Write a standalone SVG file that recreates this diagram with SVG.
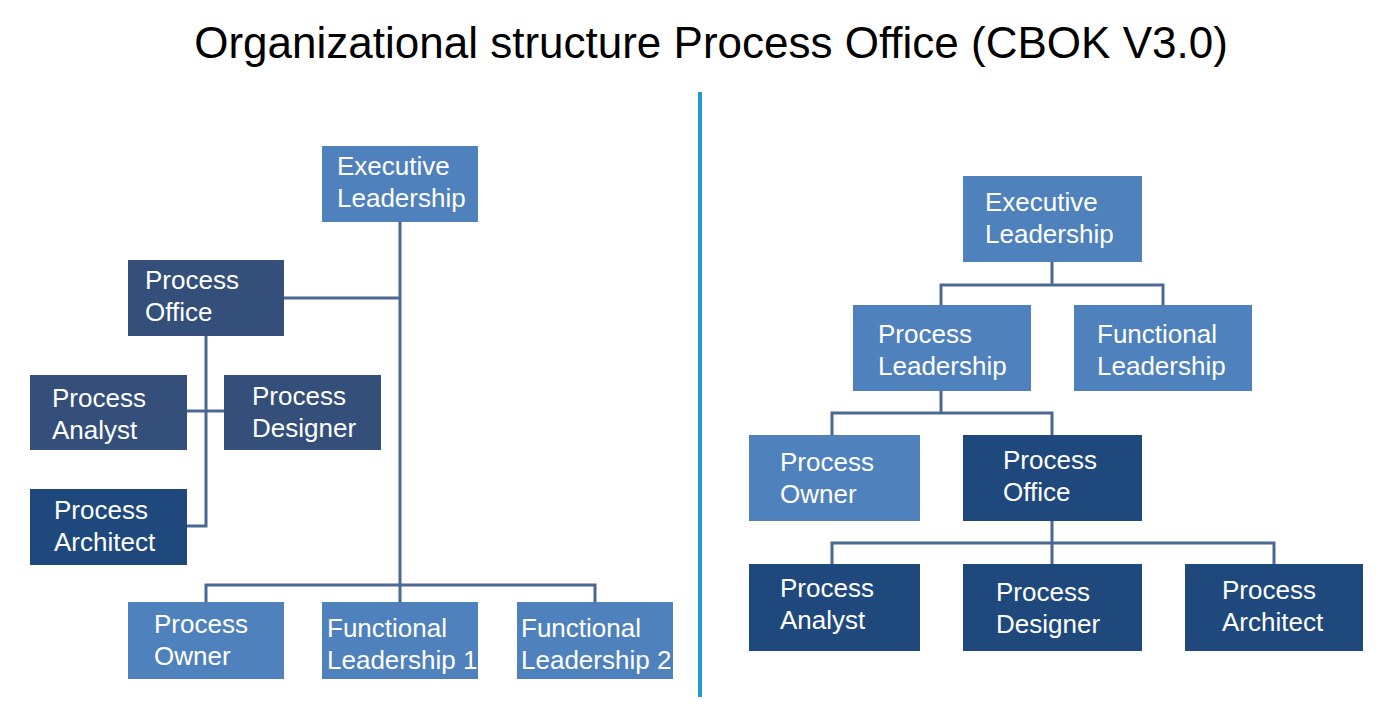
<svg xmlns="http://www.w3.org/2000/svg" width="1382" height="712" viewBox="0 0 1382 712">
<style>
.l{fill:#4F81BD}.d{fill:#1F497D}.m{fill:#34507A}
text{font-family:"Liberation Sans",Arial,sans-serif;font-size:26px;fill:#fff}
.c{stroke:#4A6892;stroke-width:3;fill:none}
</style>
<rect width="1382" height="712" fill="#fff"/>
<text x="711" y="58" text-anchor="middle" style="font-size:44px;fill:#000">Organizational structure Process Office (CBOK V3.0)</text>
<line x1="700" y1="92" x2="700" y2="697" stroke="#1E9BD7" stroke-width="4"/>
<g id="connectors" class="c">
<path d="M400 222V602M284 298H400M206 336V526H187M187 411H224M206 602V585H595V602"/>
<path d="M1052 262V285M941 305V285H1163V305M941 391V413M832 435V413H1052V435M1052 521V543M832 564V543H1274V564M1052 543V564"/>
</g>
<g id="l-exec"><rect class="l" x="322" y="146" width="156" height="76"/><text x="337" y="175">Executive</text><text x="337" y="207">Leadership</text></g>
<g id="l-office"><rect class="m" x="128" y="260" width="156" height="76"/><text x="145" y="289">Process</text><text x="145" y="321">Office</text></g>
<g id="l-analyst"><rect class="m" x="30" y="375" width="157" height="75"/><text x="52" y="407">Process</text><text x="52" y="439">Analyst</text></g>
<g id="l-designer"><rect class="m" x="224" y="375" width="157" height="75"/><text x="252" y="405">Process</text><text x="252" y="437">Designer</text></g>
<g id="l-architect"><rect class="d" x="30" y="489" width="157" height="76"/><text x="54" y="519">Process</text><text x="54" y="551">Architect</text></g>
<g id="l-owner"><rect class="l" x="128" y="602" width="156" height="77"/><text x="154" y="633">Process</text><text x="154" y="665">Owner</text></g>
<g id="l-fl1"><rect class="l" x="322" y="602" width="156" height="77"/><text x="327" y="637">Functional</text><text x="327" y="669">Leadership 1</text></g>
<g id="l-fl2"><rect class="l" x="517" y="602" width="156" height="77"/><text x="521" y="637">Functional</text><text x="521" y="669">Leadership 2</text></g>
<g id="r-exec"><rect class="l" x="963" y="176" width="179" height="86"/><text x="985" y="211">Executive</text><text x="985" y="243">Leadership</text></g>
<g id="r-pl"><rect class="l" x="853" y="305" width="178" height="86"/><text x="878" y="343">Process</text><text x="878" y="375">Leadership</text></g>
<g id="r-fl"><rect class="l" x="1074" y="305" width="178" height="86"/><text x="1097" y="343">Functional</text><text x="1097" y="375">Leadership</text></g>
<g id="r-owner"><rect class="l" x="749" y="435" width="171" height="86"/><text x="780" y="471">Process</text><text x="780" y="503">Owner</text></g>
<g id="r-office"><rect class="d" x="963" y="435" width="179" height="86"/><text x="1003" y="469">Process</text><text x="1003" y="501">Office</text></g>
<g id="r-analyst"><rect class="d" x="749" y="564" width="171" height="87"/><text x="780" y="597">Process</text><text x="780" y="629">Analyst</text></g>
<g id="r-designer"><rect class="d" x="963" y="564" width="179" height="87"/><text x="996" y="601">Process</text><text x="996" y="633">Designer</text></g>
<g id="r-architect"><rect class="d" x="1185" y="564" width="178" height="87"/><text x="1222" y="599">Process</text><text x="1222" y="631">Architect</text></g>
</svg>
